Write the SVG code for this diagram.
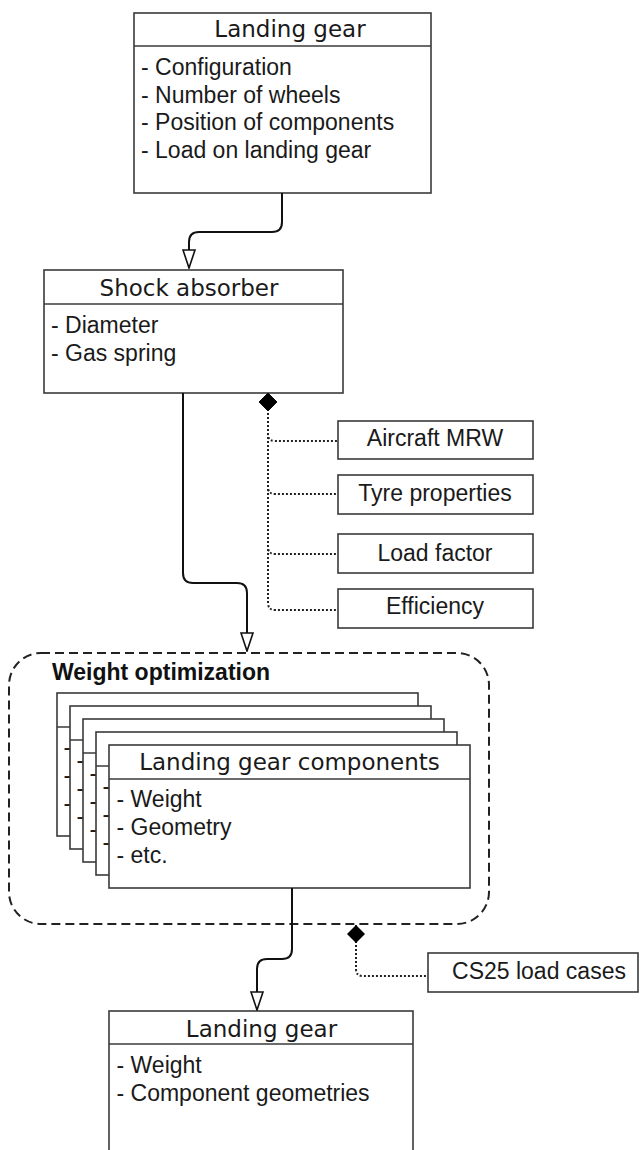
<svg xmlns="http://www.w3.org/2000/svg" width="643" height="1150" viewBox="0 0 643 1150">
  <style>
    .box { fill: #ffffff; stroke: #3a3a3a; stroke-width: 1.6; }
    .sep { stroke: #3a3a3a; stroke-width: 1.6; fill: none; }
    .title { font-family: "DejaVu Sans", Verdana, sans-serif; font-size: 23px; fill: #1a1a1a; text-anchor: middle; }
    .item { font-family: "Liberation Sans", Arial, sans-serif; font-size: 23px; fill: #1a1a1a; }
    .label { font-family: "Liberation Sans", Arial, sans-serif; font-size: 23px; fill: #1a1a1a; text-anchor: middle; }
    .group-title { font-family: "Liberation Sans", Arial, sans-serif; font-size: 23px; font-weight: bold; fill: #111111; }
    .flow { fill: none; stroke: #111111; stroke-width: 2; }
    .link { fill: none; stroke: #222222; stroke-width: 2; stroke-dasharray: 2 2; }
    .frame { fill: none; stroke: #222222; stroke-width: 2; stroke-dasharray: 9 5; }
  </style>
  <defs>
    <marker id="openArrow" viewBox="0 0 20 14" refX="19" refY="7" markerWidth="20" markerHeight="14" markerUnits="userSpaceOnUse" orient="auto">
      <path d="M1,1 L19,7 L1,13 Z" fill="#ffffff" stroke="#111111" stroke-width="1.6"/>
    </marker>
    <marker id="diamond" viewBox="0 0 18 18" refX="0" refY="9" markerWidth="18" markerHeight="18" markerUnits="userSpaceOnUse" orient="auto">
      <path d="M0,9 L9,0 L18,9 L9,18 Z" fill="#000000"/>
    </marker>
  </defs>

  <!-- Weight optimization container -->
  <g id="weight-optimization">
    <rect class="frame" x="9" y="653" width="480" height="271" rx="32" ry="32"/>
    <text class="group-title" x="52" y="680">Weight optimization</text>
  </g>

  <!-- Top landing gear definition -->
  <g id="landing-gear-input">
    <rect class="box" x="134" y="13" width="297" height="180"/>
    <line class="sep" x1="134" y1="46" x2="431" y2="46"/>
    <text class="title" x="290" y="37">Landing gear</text>
    <text class="item" x="141" y="75">- Configuration</text>
    <text class="item" x="141" y="102.5">- Number of wheels</text>
    <text class="item" x="141" y="130">- Position of components</text>
    <text class="item" x="141" y="157.5">- Load on landing gear</text>
  </g>

  <!-- Shock absorber -->
  <g id="shock-absorber">
    <rect class="box" x="44" y="270" width="299" height="123"/>
    <line class="sep" x1="44" y1="304" x2="343" y2="304"/>
    <text class="title" x="189" y="296">Shock absorber</text>
    <text class="item" x="51" y="333">- Diameter</text>
    <text class="item" x="51" y="361">- Gas spring</text>
  </g>

  <!-- Shock absorber inputs -->
  <g id="aircraft-mrw">
    <rect class="box" x="338" y="421" width="195" height="38"/>
    <text class="label" x="435" y="445.5">Aircraft MRW</text>
  </g>
  <g id="tyre-properties">
    <rect class="box" x="338" y="475" width="195" height="39"/>
    <text class="label" x="435" y="500.5">Tyre properties</text>
  </g>
  <g id="load-factor">
    <rect class="box" x="338" y="534" width="195" height="39"/>
    <text class="label" x="435" y="560.5">Load factor</text>
  </g>
  <g id="efficiency">
    <rect class="box" x="338" y="589" width="195" height="39"/>
    <text class="label" x="435" y="614">Efficiency</text>
  </g>

  <!-- Stack of component cards, back to front; only the left strip of each back card stays uncovered -->
  <g id="component-card-1">
    <rect class="box" x="57" y="693" width="361" height="143"/>
    <line class="sep" x1="57" y1="727" x2="418" y2="727"/>
    <text class="item" x="63.5" y="755">-</text>
    <text class="item" x="63.5" y="783">-</text>
    <text class="item" x="63.5" y="811">-</text>
  </g>
  <g id="component-card-2">
    <rect class="box" x="70" y="706" width="361" height="143"/>
    <line class="sep" x1="70" y1="740" x2="431" y2="740"/>
    <text class="item" x="76.5" y="768">-</text>
    <text class="item" x="76.5" y="796">-</text>
    <text class="item" x="76.5" y="824">-</text>
  </g>
  <g id="component-card-3">
    <rect class="box" x="83" y="719" width="361" height="143"/>
    <line class="sep" x1="83" y1="753" x2="444" y2="753"/>
    <text class="item" x="89.5" y="781">-</text>
    <text class="item" x="89.5" y="809">-</text>
    <text class="item" x="89.5" y="837">-</text>
  </g>
  <g id="component-card-4">
    <rect class="box" x="96" y="732" width="361" height="143"/>
    <line class="sep" x1="96" y1="766" x2="457" y2="766"/>
    <text class="item" x="102.5" y="794">-</text>
    <text class="item" x="102.5" y="822">-</text>
    <text class="item" x="102.5" y="850">-</text>
  </g>
  <g id="component-card-5">
    <rect class="box" x="109" y="745" width="361" height="143"/>
    <line class="sep" x1="109" y1="779" x2="470" y2="779"/>
    <text class="title" x="289.5" y="770">Landing gear components</text>
    <text class="item" x="116.5" y="807">- Weight</text>
    <text class="item" x="116.5" y="835">- Geometry</text>
    <text class="item" x="116.5" y="863">- etc.</text>
  </g>

  <!-- Load cases -->
  <g id="cs25-load-cases">
    <rect class="box" x="428" y="953" width="210" height="39"/>
    <text class="label" x="539" y="979">CS25 load cases</text>
  </g>

  <!-- Resulting landing gear -->
  <g id="landing-gear-output">
    <rect class="box" x="109" y="1011" width="304" height="150"/>
    <line class="sep" x1="109" y1="1044" x2="413" y2="1044"/>
    <text class="title" x="261.5" y="1037">Landing gear</text>
    <text class="item" x="116.5" y="1073">- Weight</text>
    <text class="item" x="116.5" y="1101">- Component geometries</text>
  </g>

  <!-- Connectors -->
  <g id="connectors">
    <path class="flow" d="M282,193 V222 Q282,232 272,232 H199 Q189,232 189,242 V268" marker-end="url(#openArrow)"/>
    <path class="flow" d="M183,393 V573 Q183,583 193,583 H237 Q247,583 247,593 V651" marker-end="url(#openArrow)"/>
    <path class="flow" d="M292,888 V949 Q292,959 282,959 H267 Q257,959 257,969 V1010" marker-end="url(#openArrow)"/>

    <path class="link" d="M268,393 V434 Q268,441 275,441 H338" marker-start="url(#diamond)"/>
    <path class="link" d="M268,393 V487 Q268,494 275,494 H338" marker-start="url(#diamond)"/>
    <path class="link" d="M268,393 V547 Q268,554 275,554 H338" marker-start="url(#diamond)"/>
    <path class="link" d="M268,393 V603 Q268,610 275,610 H338" marker-start="url(#diamond)"/>

    <path class="link" d="M356,925 V969 Q356,976 363,976 H428" marker-start="url(#diamond)"/>
  </g>
</svg>
